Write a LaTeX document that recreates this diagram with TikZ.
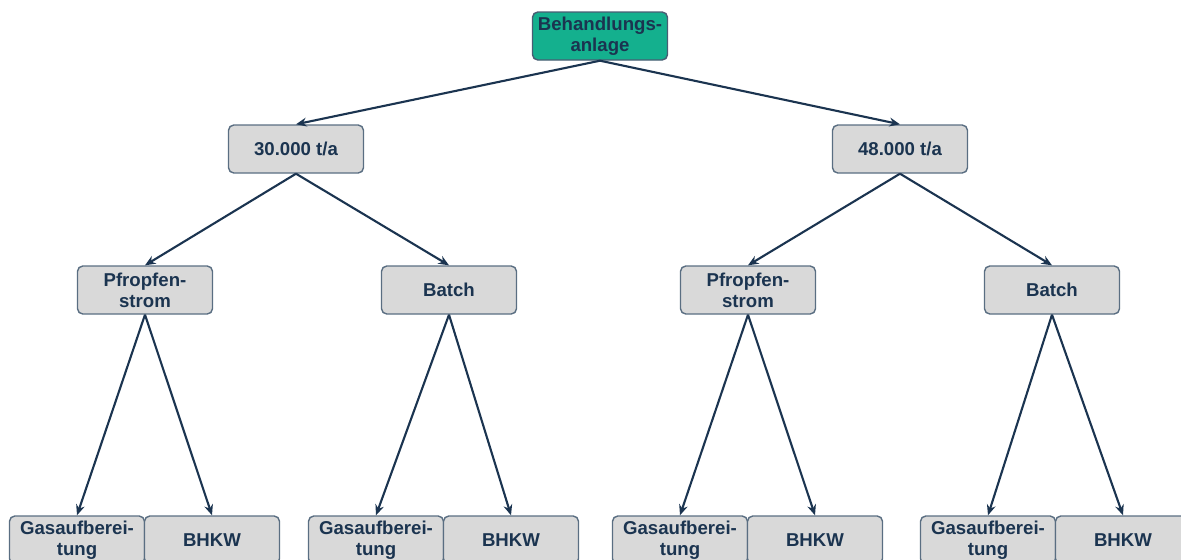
\documentclass[tikz,border=0pt]{standalone}
\usepackage{fontspec}
\setmainfont{Liberation Sans}
\usetikzlibrary{arrows.meta}
\definecolor{navy}{HTML}{1B3450}
\definecolor{boxline}{HTML}{5A6E82}
\definecolor{boxfill}{HTML}{D9D9D9}
\definecolor{teal}{HTML}{14B08E}
\begin{document}
\begin{tikzpicture}[x=0.02cm, y=-0.02cm,
  every node/.style={font=\fontsize{10.6}{12}\selectfont\bfseries, text=navy},
  box/.style={draw=boxline, thick, fill=boxfill, rounded corners=3pt, minimum width=2.7cm, minimum height=0.96cm, align=center, inner sep=1pt},
  root/.style={box, fill=teal, draw=navy!80},
  link/.style={draw=navy, line width=1.2pt, -{Stealth[length=6pt, width=5pt]}}]
  \useasboundingbox (0,0) rectangle (1181,559);
  \node[root] (anlage) at (600,36) {Behandlungs-\\anlage};
  \node[box] (t30) at (296,149) {30.000 t/a};
  \node[box] (t48) at (900,149) {48.000 t/a};
  \node[box] (pf1) at (145,290) {Pfropfen-\\strom};
  \node[box] (ba1) at (449,290) {Batch};
  \node[box] (pf2) at (748,290) {Pfropfen-\\strom};
  \node[box] (ba2) at (1052,290) {Batch};
  \node[box] (ga1) at (77,540) {Gasaufberei-\\tung};
  \node[box] (bh1) at (212,540) {BHKW};
  \node[box] (ga2) at (376,540) {Gasaufberei-\\tung};
  \node[box] (bh2) at (511,540) {BHKW};
  \node[box] (ga3) at (680,540) {Gasaufberei-\\tung};
  \node[box] (bh3) at (815,540) {BHKW};
  \node[box] (ga4) at (988,540) {Gasaufberei-\\tung};
  \node[box] (bh4) at (1123,540) {BHKW};
  \draw[link] (anlage.south) -- (t30.north);
  \draw[link] (anlage.south) -- (t48.north);
  \draw[link] (t30.south) -- (pf1.north);
  \draw[link] (t30.south) -- (ba1.north);
  \draw[link] (t48.south) -- (pf2.north);
  \draw[link] (t48.south) -- (ba2.north);
  \draw[link] (pf1.south) -- (ga1.north);
  \draw[link] (pf1.south) -- (bh1.north);
  \draw[link] (ba1.south) -- (ga2.north);
  \draw[link] (ba1.south) -- (bh2.north);
  \draw[link] (pf2.south) -- (ga3.north);
  \draw[link] (pf2.south) -- (bh3.north);
  \draw[link] (ba2.south) -- (ga4.north);
  \draw[link] (ba2.south) -- (bh4.north);
\end{tikzpicture}
\end{document}
